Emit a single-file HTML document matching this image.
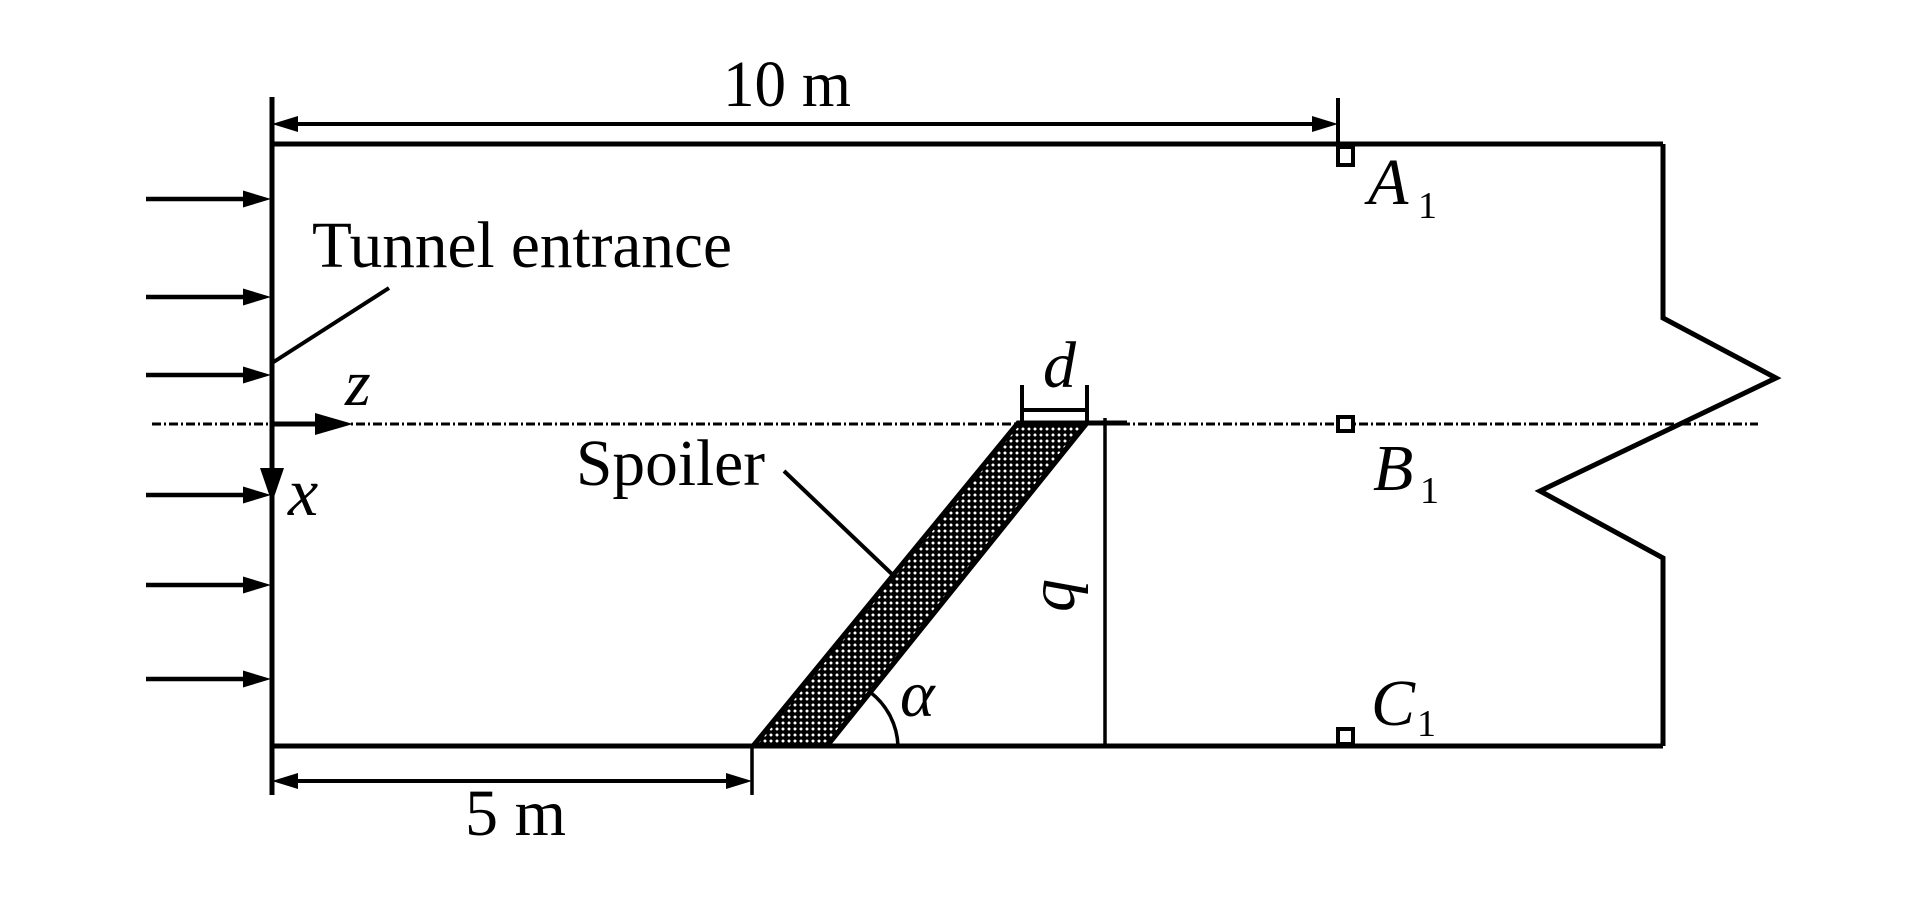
<!DOCTYPE html>
<html><head><meta charset="utf-8"><style>
html,body{margin:0;padding:0;background:#fff;}
svg{display:block;}
text{font-family:"Liberation Serif",serif;fill:#000;}
</style></head><body>
<svg width="1923" height="898" viewBox="0 0 1923 898" xmlns="http://www.w3.org/2000/svg">
<defs>
<pattern id="hatch" width="6" height="6" patternUnits="userSpaceOnUse">
<rect width="6" height="6" fill="#000"/>
<path d="M3 1.1 L4.9 3 L3 4.9 L1.1 3 Z" fill="#fff"/>
</pattern>
</defs>
<g stroke="#000" fill="none" stroke-width="5">
<line x1="272" y1="97" x2="272" y2="795"/>
<line x1="272" y1="144" x2="1663" y2="144"/>
<line x1="272" y1="746" x2="1663" y2="746"/>
<polyline points="1663,144 1663,318 1776,378 1540,491 1663,558 1663,746" stroke-linejoin="miter"/>
<line x1="290" y1="124" x2="1320" y2="124" stroke-width="4"/>
<line x1="1338" y1="98" x2="1338" y2="145" stroke-width="4"/>
<line x1="290" y1="781" x2="735" y2="781" stroke-width="4"/>
<line x1="752" y1="746" x2="752" y2="795" stroke-width="3.5"/>
<line x1="146" y1="199" x2="252" y2="199" stroke-width="4.5"/>
<line x1="146" y1="297" x2="252" y2="297" stroke-width="4.5"/>
<line x1="146" y1="375" x2="252" y2="375" stroke-width="4.5"/>
<line x1="146" y1="495" x2="252" y2="495" stroke-width="4.5"/>
<line x1="146" y1="585" x2="252" y2="585" stroke-width="4.5"/>
<line x1="146" y1="679" x2="252" y2="679" stroke-width="4.5"/>
<line x1="272" y1="363" x2="389" y2="288" stroke-width="4"/>
<line x1="784" y1="471" x2="894" y2="576" stroke-width="4"/>
<line x1="1105" y1="418" x2="1105" y2="746" stroke-width="3.5"/>
<line x1="1022" y1="385" x2="1022" y2="423" stroke-width="4"/>
<line x1="1087" y1="385" x2="1087" y2="423" stroke-width="4"/>
<line x1="1022" y1="410" x2="1087" y2="410" stroke-width="4"/>
<path d="M 870 692 A 71 71 0 0 1 898 746" stroke-width="3.5"/>
</g>
<line x1="152" y1="424" x2="1758" y2="424" stroke="#000" stroke-width="3" stroke-dasharray="9 3 2 3"/>
<line x1="1018" y1="423" x2="1127" y2="423" stroke="#000" stroke-width="5"/>
<polygon points="753,746 827,746 1087,423 1018,423" fill="url(#hatch)" stroke="#000" stroke-width="5" stroke-linejoin="miter"/>
<line x1="272" y1="424" x2="318" y2="424" stroke="#000" stroke-width="5"/>
<polygon points="315,413 353,424 315,435" fill="#000"/>
<line x1="272" y1="424" x2="272" y2="470" stroke="#000" stroke-width="5"/>
<polygon points="260,468 284,468 272,503" fill="#000"/>
<g fill="#000">
<polygon points="272,124 298,116 298,132"/>
<polygon points="1338,124 1312,116 1312,132"/>
<polygon points="272,781 298,773 298,789"/>
<polygon points="752,781 726,773 726,789"/>
<polygon points="271,199 243,190.5 243,207.5"/>
<polygon points="271,297 243,288.5 243,305.5"/>
<polygon points="271,375 243,366.5 243,383.5"/>
<polygon points="271,495 243,486.5 243,503.5"/>
<polygon points="271,585 243,576.5 243,593.5"/>
<polygon points="271,679 243,670.5 243,687.5"/>
</g>
<g fill="#fff" stroke="#000" stroke-width="4">
<rect x="1338" y="147" width="15" height="18"/>
<rect x="1338" y="417" width="15" height="14"/>
<rect x="1338" y="729" width="15" height="15"/>
</g>
<text x="723" y="106" font-size="66" textLength="128" lengthAdjust="spacingAndGlyphs">10 m</text>
<text x="312" y="267" font-size="66" textLength="420" lengthAdjust="spacingAndGlyphs">Tunnel entrance</text>
<text x="576" y="485" font-size="66" textLength="189" lengthAdjust="spacingAndGlyphs">Spoiler</text>
<text x="465" y="835" font-size="66" textLength="101" lengthAdjust="spacingAndGlyphs">5 m</text>
<text x="345" y="405" font-size="66" font-style="italic">z</text>
<text x="288" y="515" font-size="68" font-style="italic">x</text>
<text x="1043" y="387" font-size="66" font-style="italic">d</text>
<text x="900" y="716" font-size="66" font-style="italic">α</text>
<text transform="translate(1074,612) rotate(-90)" font-size="66" font-style="italic">q</text>
<text x="1368" y="204" font-size="66" font-style="italic">A</text>
<text x="1418" y="218" font-size="38">1</text>
<text x="1373" y="490" font-size="66" font-style="italic">B</text>
<text x="1420" y="503" font-size="38">1</text>
<text x="1371" y="725" font-size="66" font-style="italic">C</text>
<text x="1417" y="736" font-size="38">1</text>
</svg>
</body></html>
